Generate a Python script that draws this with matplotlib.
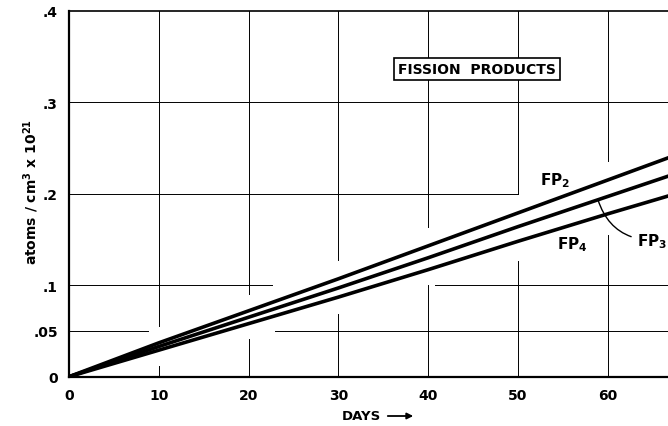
import numpy as np
import matplotlib
matplotlib.use("Agg")
import matplotlib.pyplot as plt

plt.rcParams['font.family'] = ['DejaVu Sans']
plt.rcParams['mathtext.fontset'] = 'dejavusans'

# concentration of fission products vs. irradiation time
days = [0, 10, 20, 30, 40, 50, 60, 70]
fp2 = [0, 0.037, 0.072, 0.107, 0.143, 0.179, 0.215, 0.251]
fp3 = [0, 0.033, 0.065, 0.097, 0.130, 0.164, 0.197, 0.230]
fp4 = [0, 0.029, 0.058, 0.087, 0.117, 0.148, 0.178, 0.207]

x_ticks = [0, 10, 20, 30, 40, 50, 60]
y_ticks = [0, 0.05, 0.1, 0.2, 0.3, 0.4]
y_tick_labels = ['0', '.05', '.1', '.2', '.3', '.4']

# grid is hand drawn with breaks, so keep it as segments
h_grid = [  # (y, x_start, x_end)
    (0.3, 0, 70),
    (0.2, 0, 50),
    (0.1, 0, 22.6), (0.1, 40.8, 70),
    (0.05, 0, 8.8), (0.05, 22.9, 70),
]
v_grid = [  # (x, y_start, y_end)
    (10, 0.055, 0.4), (10, 0, 0.012),
    (20, 0.090, 0.4), (20, 0, 0.041),
    (30, 0.127, 0.4), (30, 0, 0.069),
    (40, 0.164, 0.4), (40, 0, 0.1),
    (50, 0.2, 0.4), (50, 0, 0.126),
    (60, 0.236, 0.4), (60, 0, 0.155),
]

W, H = 668, 427
fig = plt.figure(figsize=(W / 100, H / 100), dpi=100)
ax = fig.add_axes([69 / W, 49.3 / H, 599 / W, 366 / H])
ax.set_xlim(0, 66.7)
ax.set_ylim(0, 0.4)

for y, x0, x1 in h_grid:
    ax.plot([x0, x1], [y, y], color='black', lw=0.7, zorder=1)
for x, y0, y1 in v_grid:
    ax.plot([x, x], [y0, y1], color='black', lw=0.7, zorder=1)

for series in (fp2, fp3, fp4):
    ax.plot(days, series, color='black', lw=2.6, solid_capstyle='butt', zorder=3)

ax.spines['right'].set_visible(False)
ax.spines['left'].set_linewidth(1.6)
ax.spines['bottom'].set_linewidth(1.6)
ax.spines['top'].set_linewidth(1.2)

ax.set_xticks(x_ticks)
ax.set_xticklabels([str(t) for t in x_ticks], fontsize=10, fontweight='bold')
ax.set_yticks(y_ticks)
ax.set_yticklabels(y_tick_labels, fontsize=10, fontweight='bold')
ax.tick_params(length=0, pad=8)

fig.text(31 / W, 1 - 192 / H, r'atoms / cm$^{\mathbf{3}}$ x 10$^{\mathbf{21}}$',
         rotation=90, ha='center', va='center', fontsize=10, fontweight='bold')

fig.text(361 / W, 1 - 417 / H, 'DAYS', ha='center', va='center',
         fontsize=9.5, fontweight='bold')
fig.add_artist(matplotlib.patches.FancyArrowPatch(
    (385 / W, 1 - 417 / H), (416 / W, 1 - 417 / H), transform=fig.transFigure,
    arrowstyle='-|>', mutation_scale=9, lw=1.3, color='black'))

ax.text(45.4, 0.336, 'FISSION  PRODUCTS', ha='center', va='center',
        fontsize=10, fontweight='bold',
        bbox=dict(boxstyle='square,pad=0.3', fc='white', ec='black', lw=1.2),
        zorder=5)

ax.text(54.1, 0.215, r'FP$_{\mathbf{2}}$', ha='center', va='center',
        fontsize=11, fontweight='bold')
ax.text(56.0, 0.145, r'FP$_{\mathbf{4}}$', ha='center', va='center',
        fontsize=11, fontweight='bold')
ax.annotate(r'FP$_{\mathbf{3}}$', xy=(58.9, np.interp(58.9, days, fp3)),
            xytext=(63.2, 0.149), ha='left', va='center',
            fontsize=11, fontweight='bold',
            arrowprops=dict(arrowstyle='-', lw=1.0, color='black',
                            connectionstyle='arc3,rad=-0.35',
                            shrinkA=2, shrinkB=0))

fig.savefig('out.png', dpi=100)
